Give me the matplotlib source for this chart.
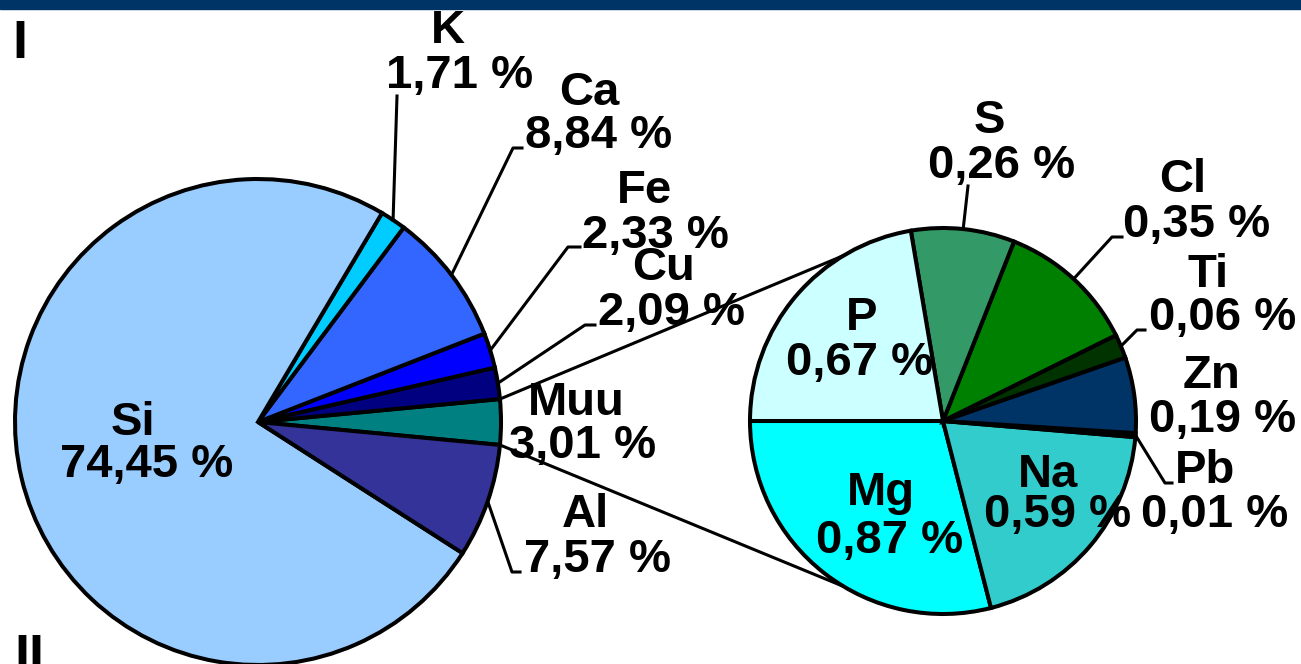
import numpy as np
import matplotlib
matplotlib.use('Agg')
import matplotlib.pyplot as plt

W, H = 1301, 664

# Main pie, counterclockwise starting with the exploded "Muu" slice
main_names = ['Muu', 'Cu', 'Fe', 'Ca', 'K', 'Si', 'Al']
main_vals = [3.01, 2.09, 2.33, 8.84, 1.71, 74.45, 7.57]
main_colors = ['#008080', '#000080', '#0000FF', '#3366FF', '#00CCFF', '#99CCFF', '#333399']

# Secondary pie (split of "Muu"), counterclockwise starting at 180 deg
sec_names = ['Mg', 'Na', 'Pb', 'Zn', 'Ti', 'Cl', 'S', 'P']
sec_vals = [0.87, 0.59, 0.01, 0.19, 0.06, 0.35, 0.26, 0.67]
sec_colors = ['#00FFFF', '#33CCCC', '#993300', '#003366', '#003300', '#008000', '#339966', '#CCFFFF']

# label layout in pixels: value-line centre x, value baseline y, name dx, name dy
label_pos = {
    'Si': (147, 477, -14, 42), 'K': (460, 88, -12, 45), 'Ca': (599, 148, -10, 43),
    'Fe': (655, 248, -10, 45), 'Cu': (672, 325, -8, 45), 'Muu': (583, 458, -7, 43),
    'Al': (597, 572, -12, 45), 'P': (860, 375, 2, 45), 'S': (1002, 178, -13, 45),
    'Cl': (1197, 237, -14, 45), 'Ti': (1223, 330, -15, 43), 'Zn': (1223, 432, -12, 44),
    'Pb': (1215, 527, -10, 44), 'Na': (1058, 527, -10, 40), 'Mg': (890, 553, -9, 48),
}
# leader line elbows (pixels), line starts at the slice edge
leaders = {
    'K': [(397, 96)], 'Ca': [(513, 148), (522, 148)], 'Fe': [(568, 247), (580, 247)],
    'Cu': [(585, 325), (595, 325)], 'Al': [(512, 572), (520, 572)], 'S': [(968, 186)],
    'Cl': [(1112, 237), (1122, 237)], 'Ti': [(1137, 330), (1145, 330)],
    'Pb': [(1165, 483), (1172, 483)],
}

main_c, main_r = (258, H - 422), 243
sec_c, sec_r = (943, H - 421), 193
lw = 2.9
lw_lead = 2.2
font = dict(family='Liberation Sans', weight='bold', color='black')

fig = plt.figure(figsize=(W / 100, H / 100), dpi=100)
ax = fig.add_axes([0, 0, 1, 1])

start = -main_vals[0] / sum(main_vals) * 360 / 2
wm, _ = ax.pie(main_vals, colors=main_colors, startangle=start, radius=main_r,
               center=main_c, wedgeprops=dict(edgecolor='black', linewidth=lw))
ws, _ = ax.pie(sec_vals, colors=sec_colors, startangle=180, radius=sec_r,
               center=sec_c, wedgeprops=dict(edgecolor='black', linewidth=lw))

ax.set_xlim(0, W)
ax.set_ylim(0, H)
ax.set_aspect('equal')
ax.axis('off')

# connector lines between the pies
m = wm[0]
for a_main, a_sec in [(m.theta2, 121), (m.theta1, -121)]:
    p0 = (main_c[0] + main_r * np.cos(np.radians(a_main)), main_c[1] + main_r * np.sin(np.radians(a_main)))
    p1 = (sec_c[0] + sec_r * np.cos(np.radians(a_sec)), sec_c[1] + sec_r * np.sin(np.radians(a_sec)))
    ax.plot([p0[0], p1[0]], [p0[1], p1[1]], color='black', lw=lw_lead, solid_capstyle='butt', zorder=3)


def draw_labels(wedges, names, vals, c, r):
    for w, name, v in zip(wedges, names, vals):
        x, y, ndx, ndy = label_pos[name]
        ax.text(x, H - y, f'{v:.2f}'.replace('.', ',') + ' %', ha='center', va='baseline',
                fontsize=34, zorder=4, **font)
        ax.text(x + ndx, H - y + ndy, name, ha='center', va='baseline',
                fontsize=34, zorder=4, **font)
        if name in leaders:
            mid = np.radians((w.theta1 + w.theta2) / 2)
            xs = [c[0] + r * np.cos(mid)] + [p[0] for p in leaders[name]]
            ys = [c[1] + r * np.sin(mid)] + [H - p[1] for p in leaders[name]]
            ax.plot(xs, ys, color='black', lw=lw_lead, zorder=3)


draw_labels(wm, main_names, main_vals, main_c, main_r)
draw_labels(ws, sec_names, sec_vals, sec_c, sec_r)

# header band and panel marks
ax.add_patch(plt.Rectangle((0, H - 9), W, 9, color='#003366', zorder=5, clip_on=False))
ax.text(19.5, H - 58, 'I', ha='center', va='baseline', fontsize=39, **font)
ax.text(29.5, H - 672, 'II', ha='center', va='baseline', fontsize=39, **font)

fig.savefig('out.png', dpi=100)
